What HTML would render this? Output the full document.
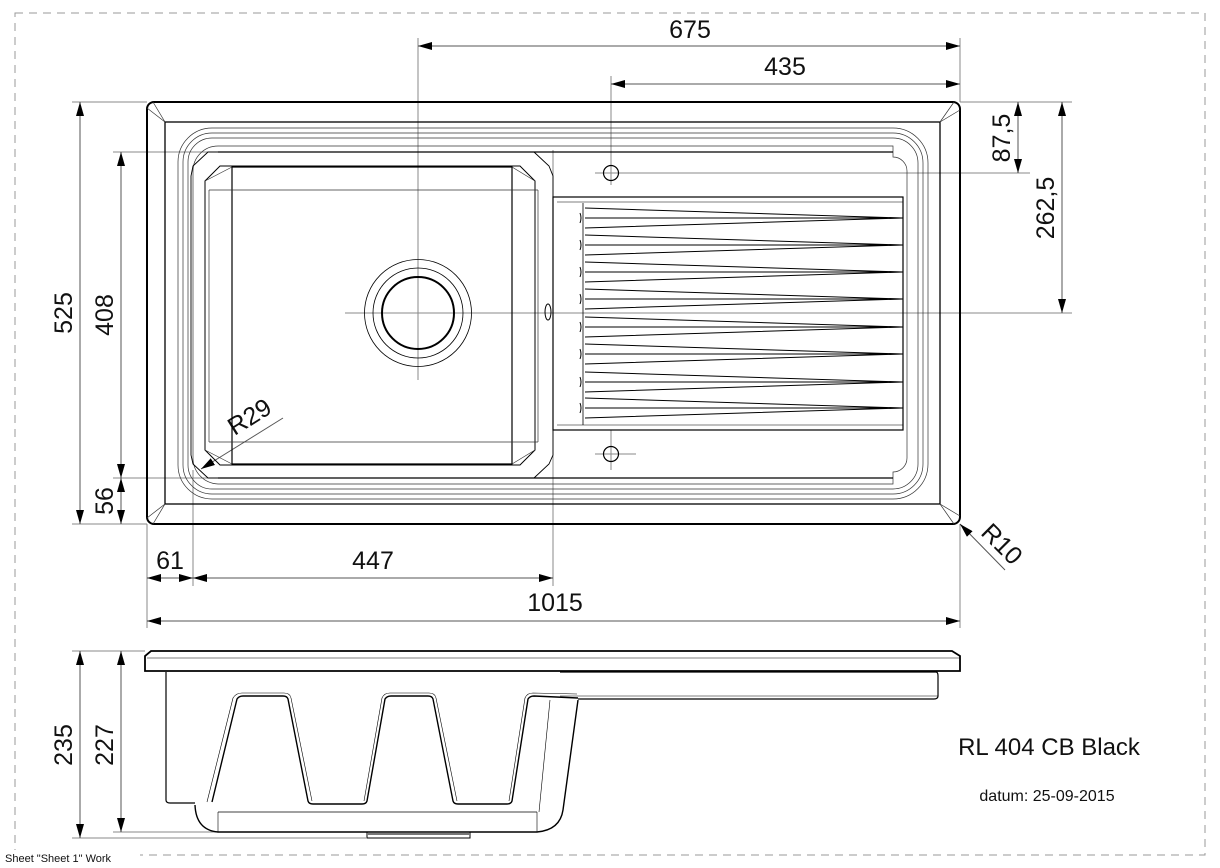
<!DOCTYPE html>
<html><head><meta charset="utf-8"><style>
html,body{margin:0;padding:0;background:#fff;}
svg{display:block;}
text{font-family:"Liberation Sans",Arial,sans-serif;fill:#111;}
</style></head><body>
<svg width="1220" height="868" viewBox="0 0 1220 868" xmlns="http://www.w3.org/2000/svg">
<defs>
<marker id="a" viewBox="0 0 14 8" refX="14" refY="4" markerWidth="14" markerHeight="8" markerUnits="userSpaceOnUse" orient="auto"><path d="M0,0 L14,4 L0,8 Z" fill="#000"/></marker>
<marker id="s" viewBox="0 0 14 8" refX="0" refY="4" markerWidth="14" markerHeight="8" markerUnits="userSpaceOnUse" orient="auto"><path d="M14,0 L0,4 L14,8 Z" fill="#000"/></marker>
</defs>
<rect x="15" y="13" width="1190" height="842" fill="none" stroke="#999" stroke-width="1" stroke-dasharray="8,6"/>
<rect x="0" y="850" width="140" height="12" fill="#fff"/>
<text x="5" y="862" font-size="11" fill="#444">Sheet "Sheet 1" Work</text>

<g stroke="#888" stroke-width="1" fill="none">
<line x1="418" y1="38" x2="418" y2="380"/>
<line x1="960" y1="38" x2="960" y2="102"/>
<line x1="611" y1="76" x2="611" y2="185"/>
<line x1="611" y1="430" x2="611" y2="470"/>
<line x1="960" y1="102" x2="1072" y2="102"/>
<line x1="595" y1="173" x2="1030" y2="173"/>
<line x1="345" y1="313" x2="1072" y2="313"/>
<line x1="72" y1="102" x2="147" y2="102"/>
<line x1="72" y1="524" x2="147" y2="524"/>
<line x1="113" y1="152" x2="550" y2="152"/>
<line x1="113" y1="478" x2="560" y2="478"/>
<line x1="193" y1="470" x2="193" y2="586"/>
<line x1="553" y1="150" x2="553" y2="586"/>
<line x1="147" y1="524" x2="147" y2="628"/>
<line x1="960" y1="524" x2="960" y2="628"/>
<line x1="595" y1="454" x2="636" y2="454"/>
<line x1="72" y1="651" x2="145" y2="651"/>
<line x1="113" y1="832" x2="218" y2="832"/>
<line x1="72" y1="838" x2="366" y2="838"/>
</g>

<g stroke="#555" stroke-width="1" fill="none">
<line x1="418" y1="46" x2="960" y2="46" marker-start="url(#s)" marker-end="url(#a)"/>
<line x1="611" y1="84" x2="960" y2="84" marker-start="url(#s)" marker-end="url(#a)"/>
<line x1="1018" y1="102" x2="1018" y2="173" marker-start="url(#s)" marker-end="url(#a)"/>
<line x1="1062" y1="102" x2="1062" y2="313" marker-start="url(#s)" marker-end="url(#a)"/>
<line x1="80" y1="102" x2="80" y2="524" marker-start="url(#s)" marker-end="url(#a)"/>
<line x1="121" y1="152" x2="121" y2="478" marker-start="url(#s)" marker-end="url(#a)"/>
<line x1="121" y1="478" x2="121" y2="524" marker-start="url(#s)" marker-end="url(#a)"/>
<line x1="147" y1="578" x2="193" y2="578" marker-start="url(#s)" marker-end="url(#a)"/>
<line x1="193" y1="578" x2="553" y2="578" marker-start="url(#s)" marker-end="url(#a)"/>
<line x1="147" y1="621" x2="960" y2="621" marker-start="url(#s)" marker-end="url(#a)"/>
<line x1="1005" y1="570" x2="960" y2="524" marker-end="url(#a)"/>
<line x1="283" y1="418" x2="201" y2="469" marker-end="url(#a)"/>
<line x1="80" y1="651" x2="80" y2="838" marker-start="url(#s)" marker-end="url(#a)"/>
<line x1="121" y1="651" x2="121" y2="832" marker-start="url(#s)" marker-end="url(#a)"/>
</g>

<g font-size="25">
<text x="690" y="38" text-anchor="middle">675</text>
<text x="785" y="75" text-anchor="middle">435</text>
<text x="170" y="569" text-anchor="middle">61</text>
<text x="373" y="569" text-anchor="middle">447</text>
<text x="555" y="611" text-anchor="middle">1015</text>
<text transform="translate(1010,138) rotate(-90)" text-anchor="middle">87,5</text>
<text transform="translate(1054,208) rotate(-90)" text-anchor="middle">262,5</text>
<text transform="translate(72,313) rotate(-90)" text-anchor="middle">525</text>
<text transform="translate(113,315) rotate(-90)" text-anchor="middle">408</text>
<text transform="translate(113,501) rotate(-90)" text-anchor="middle">56</text>
<text transform="translate(72,745) rotate(-90)" text-anchor="middle">235</text>
<text transform="translate(113,745) rotate(-90)" text-anchor="middle">227</text>
<text transform="translate(254,424) rotate(-32)" text-anchor="middle">R29</text>
<text transform="translate(996,550) rotate(45)" text-anchor="middle">R10</text>
</g>
<text x="1049" y="755" font-size="24" text-anchor="middle">RL 404 CB Black</text>
<text x="1047" y="801" font-size="16" text-anchor="middle">datum: 25-09-2015</text>

<g fill="none" stroke="#000">
<rect x="147" y="102" width="813" height="422" rx="7" stroke-width="2"/>
<rect x="165" y="122" width="775" height="382" stroke-width="1.3"/>
<g stroke-width="0.7" stroke="#333">
<line x1="147" y1="108" x2="165" y2="122"/><line x1="153" y1="102" x2="165" y2="122"/>
<line x1="954" y1="102" x2="940" y2="122"/><line x1="960" y1="110" x2="940" y2="122"/>
<line x1="147" y1="518" x2="165" y2="504"/><line x1="153" y1="524" x2="165" y2="504"/>
<line x1="954" y1="524" x2="940" y2="504"/><line x1="960" y1="516" x2="940" y2="504"/>
<path d="M212,128 L893,128 A35,35 0 0 1 928,163 L928,464 A35,35 0 0 1 893,499 L212,499 A34,34 0 0 1 178,465 L178,162 A34,34 0 0 1 212,128 Z"/>
<path d="M212,133 L893,133 A30,30 0 0 1 923,163 L923,464 A30,30 0 0 1 893,494 L212,494 A29,29 0 0 1 183,465 L183,162 A29,29 0 0 1 212,133 Z"/>
<path d="M212,138 L893,138 A25,25 0 0 1 918,163 L918,464 A25,25 0 0 1 893,489 L212,489 A24,24 0 0 1 188,465 L188,162 A24,24 0 0 1 212,138 Z"/>
<path d="M218,146 L893,146 L893,157 A14,14 0 0 1 907,171 L907,458 A14,14 0 0 1 893,472 L893,484 L218,484 A26,26 0 0 1 193,459 L193,171 A25,25 0 0 1 218,146 Z"/>
</g>
<g stroke-width="1.2">
<line x1="218" y1="152" x2="893" y2="152"/>
<line x1="218" y1="478" x2="893" y2="478"/>
<path d="M208,152 L534,152 L549,166 L553,176 L553,455 L549,464 L534,478 L208,478 L193,464 L191,455 L191,176 L193,166 Z" stroke-width="0.9"/>
<path d="M220,166 L520,166 L535,181 L535,450 L520,465 L220,465 L205,450 L205,181 Z" stroke-width="1"/>
<path d="M232,167 L512,167 L512,464 L232,464 Z" stroke-width="1.2"/>
</g>
<g stroke-width="0.7" stroke="#333">
<line x1="209" y1="190" x2="538" y2="190"/><line x1="209" y1="442" x2="538" y2="442"/>
<line x1="209" y1="190" x2="209" y2="442"/><line x1="538" y1="190" x2="538" y2="442"/>
<line x1="205" y1="181" x2="232" y2="167"/><line x1="535" y1="181" x2="512" y2="167"/>
<line x1="205" y1="450" x2="232" y2="464"/><line x1="535" y1="450" x2="512" y2="464"/>
</g>
<circle cx="418" cy="313" r="53.5" stroke-width="0.8"/>
<circle cx="418" cy="313" r="45" stroke-width="0.8"/>
<circle cx="418" cy="313" r="36" stroke-width="2"/>
<ellipse cx="548" cy="312" rx="3" ry="8" stroke-width="1"/>
<rect x="553" y="197" width="350" height="233" stroke-width="1.2"/>
<line x1="583" y1="203" x2="583" y2="425" stroke-width="0.8"/>
<line x1="557" y1="202" x2="903" y2="202" stroke-width="0.6"/>
<line x1="557" y1="425" x2="903" y2="425" stroke-width="0.6"/>
<circle cx="611" cy="173" r="7.5" stroke-width="1.2"/>
<circle cx="611" cy="454" r="7.5" stroke-width="1.2"/>
</g>
<g fill="none" stroke="#000" stroke-width="1">
<path d="M585,208 L903,218 L585,228"/><path d="M580,213 Q582,218 580,223 M585,218 L903,218"/>
<path d="M585,235 L903,245 L585,255"/><path d="M580,240 Q582,245 580,250 M585,245 L903,245"/>
<path d="M585,262 L903,272 L585,282"/><path d="M580,267 Q582,272 580,277 M585,272 L903,272"/>
<path d="M585,289 L903,299 L585,309"/><path d="M580,294 Q582,299 580,304 M585,299 L903,299"/>
<path d="M585,317 L903,327 L585,337"/><path d="M580,322 Q582,327 580,332 M585,327 L903,327"/>
<path d="M585,344 L903,354 L585,364"/><path d="M580,349 Q582,354 580,359 M585,354 L903,354"/>
<path d="M585,372 L903,382 L585,392"/><path d="M580,377 Q582,382 580,387 M585,382 L903,382"/>
<path d="M585,398 L903,408 L585,418"/><path d="M580,403 Q582,408 580,413 M585,408 L903,408"/>
</g>

<g fill="none" stroke="#000">
<path d="M145,671 L145,656 L151,651 L952,651 L960,656 L960,671 Z" stroke-width="1.8"/>
<line x1="147" y1="658" x2="960" y2="658" stroke-width="0.6"/>
<path d="M166,672 L166,800 Q166,803 170,803 L195,803" stroke-width="1.2"/>
<path d="M560,672 L936,672 Q938,672 938,676 L938,696 Q938,699 934,699 L578,699" stroke-width="1.2"/>
<line x1="560" y1="696" x2="938" y2="696" stroke-width="0.5"/>
<path d="M212,802 L237,699 Q239,696 243,696 L283,696 Q287,696 288,699 L308,801 Q309,804 313,804 L362,804 Q366,804 367,801 L385,699 Q387,696 391,696 L428,696 Q432,696 433,699 L453,801 Q454,804 458,804 L507,804 Q511,804 512,801 L528,699 Q530,696 534,696 L578,698" stroke-width="1.4"/>
<path d="M207,802 L233,698 Q236,693 242,693 L284,693 Q290,693 291,698 L312,801 M364,801 L382,698 Q384,693 390,693 L429,693 Q435,693 436,698 L457,801 M509,801 L525,698 Q527,693 533,693 L577,694" stroke-width="0.6"/>
<path d="M578,700 L563,810 Q560,830 537,832 L218,832 Q196,830 195,805" stroke-width="1.4"/>
<line x1="218" y1="812" x2="537" y2="812" stroke-width="0.8"/>
<line x1="218" y1="812" x2="218" y2="832" stroke-width="0.6"/>
<line x1="537" y1="812" x2="537" y2="832" stroke-width="0.6"/>
<line x1="550" y1="700" x2="539" y2="812" stroke-width="0.6"/>
<rect x="367" y="832" width="103" height="6" stroke-width="1"/>
<line x1="367" y1="834" x2="470" y2="834" stroke="#777" stroke-width="2"/>
</g>
</svg>
</body></html>
